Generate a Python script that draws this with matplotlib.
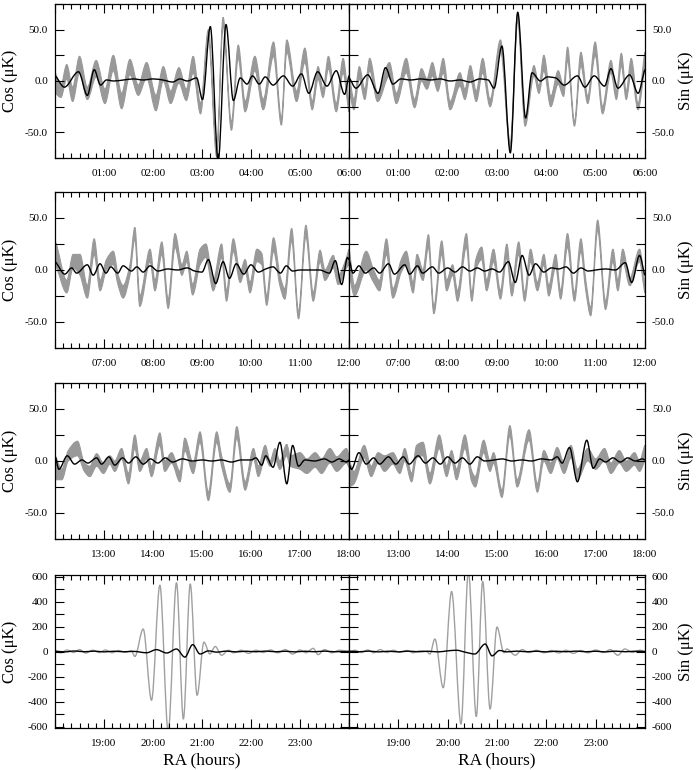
import matplotlib
matplotlib.use("Agg")
import numpy as np
import matplotlib.pyplot as plt
from matplotlib.ticker import MultipleLocator, FuncFormatter
from matplotlib.path import Path
from matplotlib.patches import PathPatch

plt.rcParams['font.family'] = ['Liberation Serif', 'DejaVu Serif']

# ---------------- data ----------------
# Row 1 : 00h-06h
A_gt = [0.00,0.12,0.24,0.36,0.50,0.66,0.84,1.02,1.19,1.36,1.53,1.70,1.87,2.06,2.21,2.36,2.53,2.68,2.82,2.97,
        3.13,3.30,3.43,3.60,3.74,3.88,4.08,4.25,4.46,4.62,4.73,4.93,5.10,5.25,5.37,5.47,5.58,5.74,5.88,6.00]
A_hi = [8,-4,16,-6,24,-6,20,-8,25,-12,21,-4,18,-14,14,-10,13,-8,24,-22,
        50,-66,62,-40,35,-20,24,-18,38,-36,40,-10,32,-20,14,-8,24,-22,22,-20]
A_lo = [-12,-16,2,-20,8,-18,4,-22,10,-27,6,-14,3,-29,0,-22,-2,-19,8,-32,
        42,-74,54,-48,22,-30,10,-28,24,-43,28,-20,18,-28,2,-16,12,-30,8,-30]
A_kt = [0.00,0.19,0.48,0.66,0.80,0.93,1.05,1.20,1.40,1.60,1.80,2.00,2.20,2.40,2.55,2.70,2.89,3.01,3.17,3.33,
        3.49,3.64,3.78,3.92,4.03,4.17,4.29,4.45,4.66,4.85,5.03,5.18,5.36,5.55,5.74,5.91,6.00]
A_kv = [5,-6,9,-14,11,-4,1,0,1,2,1,2,1,-1,2,0,3,-18,53,-78,
        55,-19,3,-3,5,-3,4,-4,5,-5,7,-12,9,-5,10,-13,5]

B_gt = [0.00,0.10,0.21,0.32,0.42,0.58,0.82,0.96,1.16,1.33,1.47,1.58,1.69,1.80,1.91,2.05,2.25,2.35,2.46,2.58,
        2.71,2.86,3.07,3.27,3.42,3.57,3.75,3.85,3.95,4.09,4.24,4.35,4.43,4.57,4.70,4.84,4.99,5.14,5.31,5.42,
        5.52,5.62,5.72,5.86,6.00]
B_hi = [5,-18,14,-8,22,-12,18,-12,22,-18,12,2,18,0,22,-20,8,-8,15,-10,
        22,-18,40,-60,66,-38,15,-5,25,-15,10,-5,33,-40,28,-15,38,-25,20,-10,
        27,-10,22,-22,28]
B_lo = [-10,-28,2,-18,10,-20,5,-22,8,-26,0,-8,5,-10,8,-28,-5,-18,2,-20,
        8,-25,30,-66,58,-44,5,-12,10,-25,-3,-15,20,-44,15,-22,25,-32,8,-18,
        15,-18,8,-28,12]
B_kt = [0.00,0.14,0.38,0.59,0.74,0.89,1.05,1.25,1.45,1.65,1.85,2.05,2.25,2.45,2.65,2.82,2.94,3.10,3.27,3.42,
        3.58,3.71,3.88,4.02,4.19,4.36,4.63,4.78,4.97,5.18,5.31,5.45,5.69,5.86,6.00]
B_kv = [3,-7,6,-12,13,-3,2,1,2,1,2,0,1,-1,2,1,-7,34,-70,67,
        -36,8,0,4,3,-4,5,-6,5,-5,12,-7,6,-12,11]

# Row 2 : 06h-12h
C_gt = [6.00,6.24,6.37,6.51,6.66,6.80,6.92,7.05,7.19,7.29,7.39,7.53,7.63,7.73,7.94,8.04,8.18,8.31,8.45,8.59,
        8.69,8.81,8.96,9.08,9.23,9.40,9.50,9.64,9.78,9.88,9.98,10.12,10.22,10.32,10.46,10.59,10.69,10.83,10.97,11.12,
        11.27,11.41,11.51,11.68,11.78,11.95,12.00]
C_hi = [28,-10,15,15,-15,30,-10,10,18,-5,-15,5,41,-25,20,-10,27,-28,35,5,
        18,-14,20,25,-10,25,-20,30,-2,10,-12,20,16,-25,31,-5,-18,40,-40,43,
        -22,19,0,14,-5,12,20]
C_lo = [5,-22,2,-5,-27,15,-20,0,5,-15,-27,-5,30,-35,8,-20,15,-37,22,-5,
        8,-24,5,12,-20,12,-30,18,-12,0,-22,8,5,-34,18,-15,-28,28,-47,32,
        -30,8,-10,2,-14,2,5]
C_kt = [6.00,6.20,6.34,6.44,6.66,6.78,6.92,7.04,7.14,7.28,7.39,7.56,7.67,7.80,7.94,8.10,8.30,8.50,8.70,8.85,
        9.00,9.13,9.28,9.43,9.56,9.70,9.85,10.00,10.15,10.30,10.45,10.60,10.72,10.85,11.00,11.20,11.40,11.60,11.72,11.85,
        11.97,12.00]
C_kv = [8,-4,2,-3,5,-5,6,-3,3,-3,4,-1,3,-2,4,-1,1,0,2,-1,
        -2,10,-13,8,-8,6,-4,5,-2,1,3,-3,4,-1,0,0,0,-3,9,-14,
        12,10]

D_gt = [6.00,6.11,6.35,6.50,6.62,6.76,6.89,7.06,7.16,7.30,7.38,7.50,7.61,7.72,7.88,7.98,8.10,8.20,8.38,8.49,
        8.57,8.69,8.79,8.93,9.07,9.20,9.30,9.44,9.56,9.68,9.82,9.95,10.05,10.19,10.29,10.43,10.57,10.70,10.80,10.90,
        11.04,11.20,11.35,11.45,11.55,11.69,11.89,12.00]
D_hi = [20,-15,18,0,-10,30,-18,10,18,-12,15,0,34,-35,28,-10,5,-20,35,-22,
        10,22,-10,20,-20,25,-15,27,-22,20,-12,15,-15,15,-20,35,-22,30,-10,-36,
        48,-30,20,-10,20,-8,20,-12]
D_lo = [-5,-25,0,-12,-20,15,-27,-2,5,-22,3,-10,22,-42,15,-20,-5,-30,22,-30,
        0,10,-20,8,-28,12,-25,15,-30,8,-20,5,-25,3,-28,22,-30,18,-20,-44,
        38,-38,8,-20,8,-15,8,-22]
D_kt = [6.00,6.08,6.20,6.33,6.50,6.62,6.80,6.92,7.13,7.23,7.39,7.49,7.69,7.82,8.00,8.15,8.30,8.45,8.60,8.75,
        8.90,9.05,9.23,9.37,9.51,9.65,9.78,9.95,10.10,10.25,10.40,10.55,10.70,10.85,11.00,11.20,11.40,11.60,11.73,11.89,
        12.00]
D_kv = [10,-3,4,-3,2,-3,6,-4,5,-4,4,-3,3,-3,2,-2,3,-1,2,-1,
        1,-2,8,-12,14,-5,6,-2,2,1,3,-3,2,-1,0,1,0,7,-12,14,
        -5]

# Row 3 : 12h-18h
E_gt = [12.00,12.14,12.27,12.46,12.60,12.71,12.85,12.99,13.12,13.22,13.36,13.50,13.63,13.73,13.87,13.97,14.14,14.24,14.38,14.55,
        14.65,14.82,14.96,15.13,15.30,15.40,15.57,15.71,15.88,16.05,16.15,16.29,16.39,16.49,16.59,16.73,16.80,17.00,17.14,17.31,
        17.44,17.61,17.75,17.95,18.00]
E_hi = [5,-8,10,19,-2,-5,7,-2,5,0,12,-12,25,0,12,-5,27,0,8,-10,
        22,-2,28,-30,28,5,-22,33,-20,12,-5,15,0,12,0,16,5,8,2,8,
        2,12,4,12,6]
E_lo = [-18,-18,0,5,-10,-15,-5,-12,-3,-10,2,-22,12,-10,2,-15,15,-10,-2,-20,
        10,-12,18,-38,18,-5,-30,22,-28,2,-15,3,-5,2,-8,5,-5,-8,-12,-6,
        -12,-2,-10,-2,-6]
E_kt = [12.00,12.08,12.25,12.40,12.55,12.67,12.85,12.95,13.10,13.22,13.38,13.50,13.65,13.80,13.95,14.10,14.25,14.40,14.60,14.80,
        15.00,15.20,15.40,15.60,15.80,16.00,16.10,16.22,16.30,16.45,16.59,16.73,16.85,16.97,17.10,17.30,17.50,17.65,17.80,17.95,
        18.00]
E_kv = [5,-8,5,-3,1,-2,3,-3,4,-4,3,-2,4,-3,2,-2,3,-1,2,0,
        1,0,1,-1,1,1,3,-4,5,-6,18,-22,15,-5,1,0,2,-1,2,-1,
        1]

F_gt = [12.00,12.10,12.31,12.45,12.59,12.72,12.89,13.03,13.13,13.27,13.37,13.50,13.64,13.83,13.98,14.08,14.18,14.35,14.49,14.56,
        14.73,14.86,14.93,15.10,15.26,15.41,15.65,15.82,15.95,16.09,16.22,16.36,16.50,16.63,16.84,17.00,17.18,17.31,17.48,17.62,
        17.79,17.89,18.00]
F_hi = [0,-10,15,-5,8,5,8,-2,12,-12,15,18,-12,25,-5,10,-8,25,-10,-15,
        20,0,8,-28,34,-18,30,-22,10,-2,13,-2,15,-8,12,2,12,-2,10,0,
        8,0,15]
F_lo = [-25,-22,3,-15,-2,-10,-3,-12,0,-20,3,5,-22,12,-15,0,-18,12,-20,-25,
        8,-10,-2,-35,24,-25,20,-30,0,-12,2,-12,3,-18,0,-8,0,-12,-2,-10,
        -4,-10,0]
F_kt = [12.00,12.05,12.20,12.35,12.50,12.62,12.80,12.95,13.10,13.22,13.40,13.55,13.70,13.85,14.00,14.15,14.30,14.45,14.60,14.75,
        14.95,15.10,15.30,15.50,15.70,15.90,16.10,16.22,16.32,16.47,16.63,16.82,16.95,17.08,17.20,17.35,17.50,17.65,17.80,17.95,
        18.00]
F_kv = [-3,-8,8,-3,3,-3,4,-3,4,-3,5,-2,3,-3,4,-2,3,-3,4,0,
        1,2,0,1,0,2,1,4,-2,13,-20,20,-7,2,-1,3,-1,3,0,2,
        1]

# Row 4 : 18h-24h (grey drawn as a line)
G_gt = [18.00,18.12,18.25,18.38,18.50,18.63,18.77,18.90,19.03,19.17,19.30,19.43,19.56,19.63,19.80,19.97,20.14,20.31,20.48,20.62,
        20.76,20.90,21.04,21.16,21.27,21.40,21.54,21.64,21.80,21.95,22.10,22.25,22.40,22.55,22.70,22.85,23.00,23.12,23.27,23.37,
        23.50,23.65,23.80,24.00]
G_gv = [5,-10,12,-8,15,-12,10,-8,12,-10,8,-6,5,-40,180,-390,530,-640,550,-540,
        540,-350,75,-20,40,-30,10,-10,10,-15,10,-8,12,-10,15,-20,12,-10,25,-25,
        15,-10,10,0]
G_kt = [18.00,18.20,18.40,18.60,18.80,19.00,19.20,19.40,19.60,19.87,20.07,20.28,20.48,20.65,20.81,20.96,21.13,21.30,21.50,21.70,
        21.90,22.10,22.30,22.50,22.70,22.90,23.10,23.30,23.50,23.70,24.00]
G_kv = [3,-3,4,-2,3,-3,2,-2,1,-10,15,-12,20,-45,55,-20,5,-5,3,-3,
        2,-2,3,-2,2,-3,2,-2,3,-2,1]

H_gt = [18.00,18.12,18.25,18.38,18.50,18.63,18.77,18.90,19.03,19.17,19.30,19.43,19.57,19.64,19.74,19.91,20.08,20.27,20.42,20.58,
        20.71,20.86,21.00,21.14,21.20,21.37,21.51,21.65,21.80,21.95,22.10,22.25,22.40,22.55,22.70,22.85,23.00,23.15,23.30,23.45,
        23.59,23.75,23.90,24.00]
H_gv = [-5,10,-8,12,-10,15,-8,10,-6,8,-10,5,0,-20,100,-290,480,-580,640,-520,
        560,-460,195,-10,20,-30,15,-8,10,-10,8,-12,10,-15,8,-10,12,-8,15,-30,
        20,-8,10,0]
H_kt = [18.00,18.20,18.40,18.60,18.80,19.00,19.20,19.40,19.60,19.80,20.00,20.18,20.35,20.55,20.76,20.90,21.05,21.20,21.40,21.60,
        21.80,22.00,22.20,22.40,22.60,22.80,23.00,23.20,23.40,23.60,23.80,24.00]
H_kv = [3,-2,3,-3,2,-3,3,-2,2,-3,5,10,-5,-20,60,-35,8,-3,3,-2,
        2,-3,2,-2,3,-2,2,-3,3,-2,2,0]

row_starts = [0, 6, 12, 18]
left_label = "Cos (μK)"
right_label = "Sin (μK)"
x_label = "RA (hours)"


# ---------- smooth (monotone cubic Bezier) drawing through the read points ----------
def bezier_segments(x, y):
    x = np.asarray(x, float)
    y = np.asarray(y, float)
    n = len(x)
    d = np.diff(y) / np.diff(x)
    m = np.zeros(n)
    for i in range(1, n - 1):
        if d[i - 1] * d[i] > 0:
            m[i] = 2.0 / (1.0 / d[i - 1] + 1.0 / d[i])
    m[0], m[-1] = d[0] * 0.5, d[-1] * 0.5
    verts = []
    for i in range(n - 1):
        h = x[i + 1] - x[i]
        verts += [(x[i] + h / 3, y[i] + m[i] * h / 3),
                  (x[i + 1] - h / 3, y[i + 1] - m[i + 1] * h / 3),
                  (x[i + 1], y[i + 1])]
    return verts


def smooth_line(ax, x, y, **kw):
    verts = [(x[0], y[0])] + bezier_segments(x, y)
    codes = [Path.MOVETO] + [Path.CURVE4] * (len(verts) - 1)
    ax.add_patch(PathPatch(Path(verts, codes), fill=False, capstyle='round',
                           joinstyle='round', **kw))


def smooth_band(ax, x, lo, hi, color):
    up = [(x[0], hi[0])] + bezier_segments(x, hi)
    xr, lr = list(x)[::-1], list(lo)[::-1]
    dn = [(xr[0], lr[0])] + bezier_segments(xr, lr)
    verts = up + dn + [up[0]]
    codes = ([Path.MOVETO] + [Path.CURVE4] * (len(up) - 1) +
             [Path.LINETO] + [Path.CURVE4] * (len(dn) - 1) + [Path.CLOSEPOLY])
    ax.add_patch(PathPatch(Path(verts, codes), facecolor=color, edgecolor=color, lw=0.8))


# ---------------- layout ----------------
W, H = 696, 770
fig = plt.figure(figsize=(W / 100, H / 100), dpi=100)
GREY = "#999999"
x_left, x_mid, x_right = 55, 349, 645
rows_px = [(4, 158), (192, 348), (383, 539), (575, 728)]

panels = [
    [(A_gt, A_hi, A_lo, A_kt, A_kv), (B_gt, B_hi, B_lo, B_kt, B_kv)],
    [(C_gt, C_hi, C_lo, C_kt, C_kv), (D_gt, D_hi, D_lo, D_kt, D_kv)],
    [(E_gt, E_hi, E_lo, E_kt, E_kv), (F_gt, F_hi, F_lo, F_kt, F_kv)],
    [(G_gt, G_gv, None, G_kt, G_kv), (H_gt, H_gv, None, H_kt, H_kv)],
]

for r, (top, bot) in enumerate(rows_px):
    start = row_starts[r]
    for c in range(2):
        x0 = x_left if c == 0 else x_mid
        x1 = x_mid if c == 0 else x_right
        ax = fig.add_axes([x0 / W, 1 - bot / H, (x1 - x0) / W, (bot - top) / H])
        gt, ghi, glo, kt, kv = panels[r][c]
        if glo is not None:
            smooth_band(ax, gt, glo, ghi, GREY)
            ax.set_ylim(-75, 75)
            ax.yaxis.set_major_locator(MultipleLocator(25))
            ax.yaxis.set_major_formatter(FuncFormatter(
                lambda v, p: ("%.1f" % v) if round(v) % 50 == 0 else ""))
        else:
            smooth_line(ax, gt, ghi, edgecolor="#a0a0a0", lw=1.0)
            ax.set_ylim(-612, 612)
            ax.yaxis.set_major_locator(MultipleLocator(100))
            ax.yaxis.set_major_formatter(FuncFormatter(
                lambda v, p: ("%d" % round(v)) if round(v) % 200 == 0 else ""))
        smooth_line(ax, kt, kv, edgecolor="black", lw=1.0)
        ax.set_xlim(start, start + 6)
        ax.xaxis.set_major_locator(MultipleLocator(1))
        ax.xaxis.set_minor_locator(MultipleLocator(1 / 6))

        def xfmt(v, p, s=start, last=(r == 3)):
            h = int(round(v))
            if h <= s or (last and h >= s + 6):
                return ""
            return "%02d:00" % (h % 24)
        ax.xaxis.set_major_formatter(FuncFormatter(xfmt))
        ax.tick_params(which='both', direction='in', top=True, bottom=True,
                       left=True, right=True, labelsize=8, width=0.8)
        ax.tick_params(axis='x', which='major', length=6.5, pad=8)
        ax.tick_params(axis='x', which='minor', length=3.8)
        ax.tick_params(axis='y', which='major', length=6.5, pad=5)
        if c == 1:
            ax.tick_params(axis='y', labelleft=False, labelright=True)
        for s in ax.spines.values():
            s.set_linewidth(0.9)

    yc = 1 - (top + bot) / 2 / H
    fig.text(10 / W, yc, left_label, rotation=90, ha='center', va='center', fontsize=12)
    fig.text(686 / W, yc, right_label, rotation=90, ha='center', va='center', fontsize=12)

fig.text((x_left + x_mid) / 2 / W, 1 - 760 / H, x_label, ha='center', va='center', fontsize=12.5)
fig.text((x_mid + x_right) / 2 / W, 1 - 760 / H, x_label, ha='center', va='center', fontsize=12.5)

fig.savefig("out.png", dpi=100)
